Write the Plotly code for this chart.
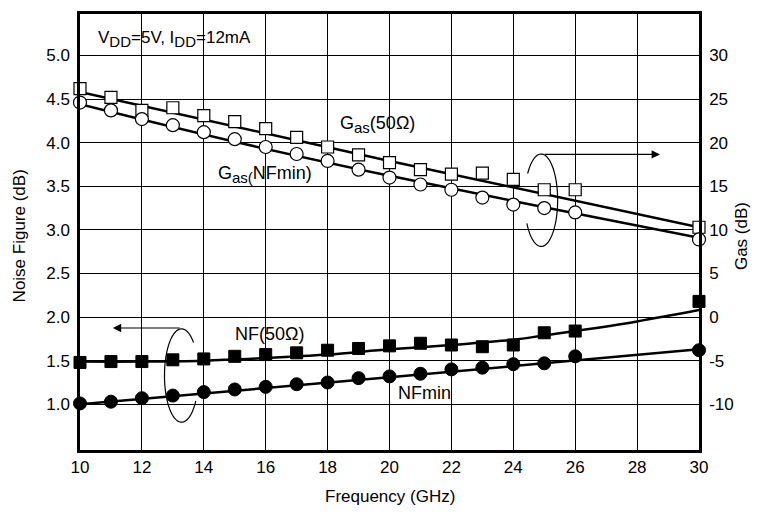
import numpy as np
import plotly.graph_objects as go

# ---------------- data ----------------
freq_meas = [10, 11, 12, 13, 14, 15, 16, 17, 18, 19, 20, 21, 22, 23, 24, 25, 26, 30]
gas_50 = [26.2, 25.2, 23.7, 24.0, 23.1, 22.4, 21.6, 20.6, 19.5, 18.6, 17.7, 16.9, 16.4, 16.5, 15.8, 14.6, 14.6, 10.3]
gas_nfmin = [24.6, 23.7, 22.7, 22.0, 21.2, 20.4, 19.5, 18.7, 17.9, 16.9, 16.0, 15.2, 14.6, 13.7, 12.9, 12.5, 12.0, 8.9]
nf_50 = [1.48, 1.49, 1.49, 1.51, 1.52, 1.55, 1.57, 1.59, 1.62, 1.64, 1.67, 1.70, 1.68, 1.66, 1.68, 1.82, 1.84, 2.18]
nf_min = [1.01, 1.03, 1.07, 1.10, 1.14, 1.17, 1.20, 1.23, 1.25, 1.30, 1.32, 1.35, 1.40, 1.42, 1.46, 1.47, 1.55, 1.62]

fit_gas50_f = [10, 20, 30]
fit_gas50_v = [25.8, 17.9, 10.3]
fit_gasnf_f = [10, 15, 20, 25, 30]
fit_gasnf_v = [24.4, 20.1, 16.2, 12.6, 9.1]
fit_nf50_f = [10, 12, 14, 16, 18, 20, 22, 24, 25, 26, 28, 30]
fit_nf50_v = [1.49, 1.49, 1.50, 1.53, 1.57, 1.63, 1.68, 1.74, 1.79, 1.84, 1.95, 2.08]
fit_nfmin_f = [10, 20, 30]
fit_nfmin_v = [1.00, 1.31, 1.63]

x_ticks = [10, 12, 14, 16, 18, 20, 22, 24, 26, 28, 30]
left_ticks = [1.0, 1.5, 2.0, 2.5, 3.0, 3.5, 4.0, 4.5, 5.0]
right_ticks = [-10, -5, 0, 5, 10, 15, 20, 25, 30]
left_range = [0.476, 5.475]
right_range = [-15.24, 34.75]

FONT = "Liberation Sans, Arial, Helvetica, sans-serif"
TXT = dict(size=18, color="black", family=FONT)

fig = go.Figure()

line_style = dict(color="black", width=2.5, shape="spline")
fig.add_trace(go.Scatter(x=fit_gas50_f, y=fit_gas50_v, mode="lines", yaxis="y2", line=line_style, showlegend=False))
fig.add_trace(go.Scatter(x=fit_gasnf_f, y=fit_gasnf_v, mode="lines", yaxis="y2", line=line_style, showlegend=False))
fig.add_trace(go.Scatter(x=fit_nf50_f, y=fit_nf50_v, mode="lines", line=line_style, showlegend=False))
fig.add_trace(go.Scatter(x=fit_nfmin_f, y=fit_nfmin_v, mode="lines", line=line_style, showlegend=False))

fig.add_trace(go.Scatter(x=freq_meas, y=gas_50, mode="markers", yaxis="y2", cliponaxis=False,
                         marker=dict(symbol="square", size=12, color="white",
                                     line=dict(color="black", width=1.2)), showlegend=False))
fig.add_trace(go.Scatter(x=freq_meas, y=gas_nfmin, mode="markers", yaxis="y2", cliponaxis=False,
                         marker=dict(symbol="circle", size=13, color="white",
                                     line=dict(color="black", width=1.2)), showlegend=False))
fig.add_trace(go.Scatter(x=freq_meas, y=nf_50, mode="markers", cliponaxis=False,
                         marker=dict(symbol="square", size=12, color="black",
                                     line=dict(color="black", width=1)), showlegend=False))
fig.add_trace(go.Scatter(x=freq_meas, y=nf_min, mode="markers", cliponaxis=False,
                         marker=dict(symbol="circle", size=13, color="black",
                                     line=dict(color="black", width=1)), showlegend=False))


def curl(cx, cy, rx, ry, a0, a1, n=80):
    t = np.radians(np.linspace(a0, a1, n))
    xs = cx + rx * np.cos(t)
    ys = cy + ry * np.sin(t)
    return "M %.4f,%.4f " % (xs[0], ys[0]) + " ".join("L %.4f,%.4f" % (a, b) for a, b in zip(xs[1:], ys[1:]))


shapes = [
    dict(type="path", xref="x", yref="y", path=curl(13.28, 1.33, 0.55, 0.535, 45, 327),
         line=dict(color="black", width=1.2)),
    dict(type="path", xref="x", yref="y", path=curl(24.9, 3.34, 0.533, 0.53, 210, 505),
         line=dict(color="black", width=1.2)),
]


def sub(s):
    return "<sub><span style='font-size:15px'>%s</span></sub>" % s


annotations = [
    dict(x=11.06, y=1.875, ax=13.27, ay=1.875, xref="x", yref="y", axref="x", ayref="y",
         text="", showarrow=True, arrowhead=2, arrowsize=1.4, arrowwidth=1.2, arrowcolor="black"),
    dict(x=28.74, y=3.865, ax=24.97, ay=3.865, xref="x", yref="y", axref="x", ayref="y",
         text="", showarrow=True, arrowhead=2, arrowsize=1.4, arrowwidth=1.2, arrowcolor="black"),
    dict(x=10.53, y=5.19, xref="x", yref="y", xanchor="left", yanchor="middle", showarrow=False,
         text="V" + sub("DD") + "=5V, I" + sub("DD") + "=12mA", font=dict(size=17, color="black", family=FONT)),
    dict(x=18.33, y=4.21, xref="x", yref="y", xanchor="left", yanchor="middle", showarrow=False,
         text="G" + sub("as") + "(50Ω)", font=TXT),
    dict(x=14.41, y=3.64, xref="x", yref="y", xanchor="left", yanchor="middle", showarrow=False,
         text="G" + sub("as(") + "NFmin)", font=TXT),
    dict(x=14.93, y=1.81, xref="x", yref="y", xanchor="left", yanchor="middle", showarrow=False,
         text="NF(50Ω)", font=TXT),
    dict(x=20.2, y=1.125, xref="x", yref="y", xanchor="left", yanchor="middle", showarrow=False,
         text="NFmin", font=TXT),
    dict(x=0.501, y=-0.107, xref="paper", yref="paper", xanchor="center", yanchor="middle",
         showarrow=False, text="Frequency (GHz)", font=dict(size=17, color="black", family=FONT)),
    dict(x=-0.0985, y=0.49, xref="paper", yref="paper", xanchor="center", yanchor="middle",
         showarrow=False, textangle=-90, text="Noise Figure (dB)",
         font=dict(size=17, color="black", family=FONT)),
    dict(x=1.069, y=0.49, xref="paper", yref="paper", xanchor="center", yanchor="middle",
         showarrow=False, textangle=-90, text="Gas (dB)",
         font=dict(size=17, color="black", family=FONT)),
]

axis_common = dict(zeroline=False, showline=True, linecolor="black", linewidth=2.5, ticks="",
                   tickfont=dict(size=17, family=FONT, color="black"))

fig.update_layout(
    width=747, height=498,
    margin=dict(l=72, r=56, t=3, b=56),
    paper_bgcolor="white", plot_bgcolor="white",
    font=dict(family=FONT, size=17, color="black"),
    shapes=shapes, annotations=annotations,
    xaxis=dict(range=[10, 30], tickvals=x_ticks, ticktext=[str(v) for v in x_ticks],
               showgrid=True, gridcolor="black", gridwidth=1, mirror=True, **axis_common),
    yaxis=dict(range=left_range, tickvals=left_ticks, ticktext=["%.1f" % v for v in left_ticks],
               showgrid=True, gridcolor="black", gridwidth=1, mirror=True,
               ticklabelstandoff=4, **axis_common),
    yaxis2=dict(range=right_range, tickvals=right_ticks, ticktext=[str(v) for v in right_ticks],
                overlaying="y", side="right", showgrid=False, ticklabelstandoff=4, **axis_common),
)

fig.write_html("out.html")
